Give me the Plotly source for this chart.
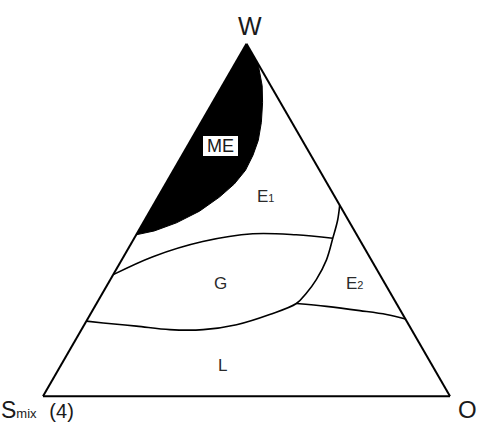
import plotly.graph_objects as go

# phase boundaries, as (W, Smix, O) fractions
# ME region: right boundary from the O-W edge down to the Smix-W edge
me_w = [0.943, 0.881, 0.833, 0.777, 0.726, 0.684, 0.641, 0.602, 0.565, 0.525, 0.492, 0.469, 0.458]
me_s = [0.000, 0.021, 0.044, 0.075, 0.108, 0.142, 0.182, 0.229, 0.284, 0.353, 0.426, 0.492, 0.542]
me_o = [0.057, 0.098, 0.123, 0.148, 0.166, 0.174, 0.177, 0.169, 0.151, 0.122, 0.082, 0.039, 0.000]

# E1 / G boundary
e1g_w = [0.345, 0.396, 0.439, 0.461, 0.458, 0.448]
e1g_s = [0.655, 0.532, 0.388, 0.254, 0.149, 0.064]
e1g_o = [0.000, 0.072, 0.173, 0.285, 0.393, 0.488]

# E2 left boundary continuing as the lower edge of G
e2g_w = [0.542, 0.500, 0.448, 0.387, 0.331, 0.293, 0.263, 0.232, 0.203, 0.189, 0.189, 0.199, 0.208, 0.213]
e2g_s = [0.000, 0.026, 0.064, 0.110, 0.163, 0.206, 0.246, 0.327, 0.423, 0.512, 0.594, 0.671, 0.748, 0.787]
e2g_o = [0.458, 0.474, 0.488, 0.503, 0.506, 0.501, 0.491, 0.441, 0.374, 0.299, 0.217, 0.130, 0.044, 0.000]

# E2 / L boundary
e2l_w = [0.263, 0.255, 0.243, 0.232, 0.219]
e2l_s = [0.246, 0.176, 0.100, 0.040, 0.000]
e2l_o = [0.491, 0.569, 0.657, 0.728, 0.781]

region_labels = ["ME", "E<span style='font-size:11px'>1</span>", "G",
                 "E<span style='font-size:11px'>2</span>", "L"]

fig = go.Figure()

# black ME region (closed through the W corner)
fig.add_trace(go.Scatterternary(
    a=[1.0] + me_w + [1.0], b=[0.0] + me_s + [0.0], c=[0.0] + me_o + [0.0],
    mode="lines", fill="toself", fillcolor="black",
    line=dict(color="black", width=1), hoverinfo="skip"))

for a, b, c in [(e1g_w, e1g_s, e1g_o), (e2g_w, e2g_s, e2g_o), (e2l_w, e2l_s, e2l_o)]:
    fig.add_trace(go.Scatterternary(
        a=a, b=b, c=c, mode="lines",
        line=dict(color="black", width=1.6, shape="spline"), hoverinfo="skip"))

axis = dict(showline=True, linecolor="black", linewidth=2, showgrid=False,
            ticks="", showticklabels=False, title=dict(text=""))

fig.update_layout(
    width=478, height=424,
    margin=dict(l=0, r=0, t=0, b=0),
    paper_bgcolor="white",
    showlegend=False,
    font=dict(family="Liberation Sans, Arial, sans-serif", color="#1a1a1a"),
    ternary=dict(
        sum=1,
        bgcolor="white",
        domain=dict(x=[43 / 478, 450 / 478], y=[27 / 424, 381 / 424]),
        aaxis=axis, baxis=axis, caxis=axis,
    ),
)

def label(x, y, text, size, **kw):
    fig.add_annotation(x=x, y=y, xref="paper", yref="paper", text=text,
                       xanchor=kw.pop("xanchor", "center"), yanchor=kw.pop("yanchor", "middle"),
                       showarrow=False, font=dict(size=size, color=kw.pop("color", "#1a1a1a")), **kw)

# corner labels
label(0.523, 0.939, "W", 25)
label(0.979, 0.0, "O", 24, yanchor="bottom", borderpad=0)
label(0.0, 0.0,
      "S<span style='font-size:13px'>mix</span>&nbsp;&nbsp;<span style='font-size:20px'>(4)</span>",
      23, xanchor="left", yanchor="bottom", borderpad=0)

# region labels
label_x = [0.4613, 0.5544, 0.4603, 0.7406, 0.4665]
label_y = [0.6557, 0.5377, 0.3325, 0.3325, 0.1368]
for i, (t, x, y) in enumerate(zip(region_labels, label_x, label_y)):
    if i == 0:
        label(x, y, t, 18, bgcolor="white", bordercolor="black", borderwidth=1,
              borderpad=0, width=35)
    else:
        label(x, y, t, 17, color="#2a2a2a")

# page body has a default 8px margin; drop it so the figure sits at the window corner
fig.write_html("out.html", config={"displayModeBar": False},
               post_script="document.body.style.margin='0';")
